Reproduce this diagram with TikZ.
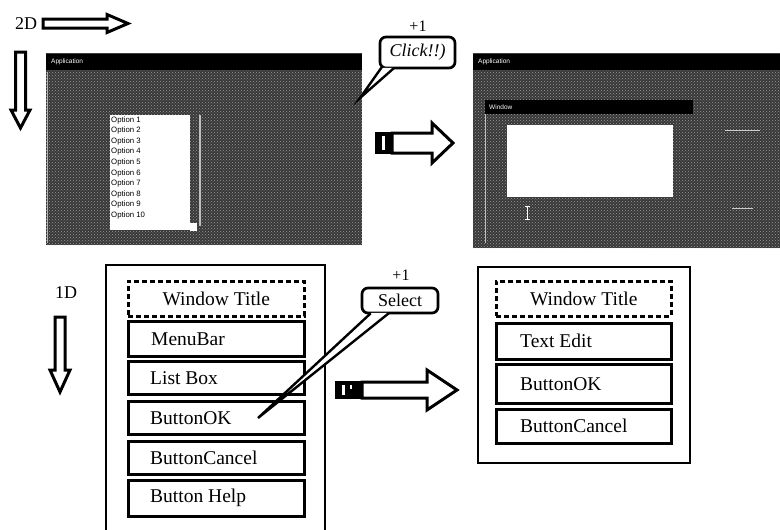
\documentclass[tikz,border=0pt]{standalone}
\usepackage{fontspec}
\setmainfont{Liberation Serif}
\newfontfamily\uifont{Liberation Sans}
\usetikzlibrary{patterns}

\tikzset{
  heavy/.style={line width=3pt, line join=miter},
  widget/.style={draw, line width=2.6pt, anchor=north west, inner sep=0pt, minimum width=176pt},
  dashwidget/.style={widget, dash pattern=on 5pt off 3pt},
  lbl/.style={anchor=west, inner sep=0pt, font=\fontsize{19.5}{20}\selectfont},
  ctr/.style={inner sep=0pt, font=\fontsize{19.5}{20}\selectfont},
  bubble/.style={draw, line width=2.7pt, fill=white, rounded corners=6pt, inner sep=0pt},
  shot/.style={fill=black!78},
  dither/.style={pattern=crosshatch dots, pattern color=black!40!white},
  tiny/.style={inner sep=0pt, anchor=west, font=\uifont\fontsize{6.5}{7}\selectfont},
  opt/.style={inner sep=0pt, anchor=west, font=\uifont\fontsize{7.8}{8}\selectfont},
}

\begin{document}
\begin{tikzpicture}[x=1pt,y=-1pt]
\useasboundingbox (0,0) rectangle (780,530);

% ---------- 2D direction marks ----------
\node[ctr, font=\fontsize{18}{18}\selectfont] (twoD) at (26,24) {2D};
\draw[heavy, fill=white] (43,19) -- (107,19) -- (107,14.5) -- (128,23.5) -- (107,32.5) -- (107,28) -- (43,28) -- cycle;
\draw[heavy, fill=white] (15.5,52) -- (25.5,52) -- (25.5,110) -- (30,110) -- (20.5,128) -- (11,110) -- (15.5,110) -- cycle;

% ---------- left screenshot: list box ----------
\fill[shot] (46,53) rectangle (362,245);
\fill[dither] (46,53) rectangle (362,245);
\fill[black] (46,54) rectangle (362,70);
\node[tiny, text=white] (apptitleA) at (51,62) {Application};
\draw[black!30, line width=0.8pt] (47,72) -- (47,243);
\fill[white] (110,115) rectangle (190,230);
\foreach \i in {1,...,10}
  \node[opt] (opt\i) at (111,{120+(\i-1)*10.6}) {Option \i};
\draw[black!25, line width=1.2pt] (200,115) -- (200,226);
\fill[white] (190,223) rectangle (197,231);

% ---------- right screenshot: text edit window ----------
\fill[shot] (473,53) rectangle (780,248);
\fill[dither] (473,53) rectangle (780,248);
\fill[black] (473,54) rectangle (780,70);
\node[tiny, text=white] (apptitleB) at (478,62) {Application};
\fill[black] (485,100) rectangle (693,114);
\node[tiny, text=white] (wintitle) at (489,107) {Window};
\draw[black!25, line width=0.8pt] (485,114) -- (485,243);
\fill[white] (507,125) rectangle (673,197);
\draw[white, line width=1pt] (527,206) -- (527,219) (524.5,206) -- (529.5,206) (524.5,219) -- (529.5,219);
\draw[black!20, line width=1pt] (725,130) -- (760,130) (732,208) -- (753,208);

% ---------- "Click!!)" callout ----------
\node[bubble, minimum width=75pt, minimum height=31pt,
      font=\itshape\fontsize{18}{18}\selectfont] (click) at (417.5,52.5) {Click!!)};
\node[ctr, font=\fontsize{16}{16}\selectfont] (plusA) at (418,26) {+1};
\coordinate (clicktip) at (360,98);
\fill[white] ([xshift=4pt,yshift=1.5pt]click.south west) -- (clicktip) -- ([xshift=14pt,yshift=1.5pt]click.south west) -- cycle;
\draw[line width=2.4pt] ([xshift=3pt,yshift=2pt]click.south west) -- (clicktip) -- ([xshift=15pt,yshift=1pt]click.south west);

% ---------- transition arrows ----------
\draw[heavy, fill=white] (392,133) -- (432,133) -- (432,123) -- (453,143) -- (432,163) -- (432,153) -- (392,153) -- cycle;
\fill[black] (375,132) rectangle (392,154);
\fill[white] (382,136) rectangle (385,150);

\draw[heavy, fill=white] (362,382) -- (427,382) -- (427,370) -- (457,390) -- (427,410) -- (427,398) -- (362,398) -- cycle;
\fill[black] (335,381) rectangle (362,399);
\fill[white] (342,385) rectangle (345,395);
\fill[white] (350,385) rectangle (352,389);

% ---------- 1D direction mark ----------
\node[ctr, font=\fontsize{18}{18}\selectfont] (oneD) at (66,293) {1D};
\draw[heavy, fill=white] (55,317) -- (65,317) -- (65,370) -- (70,370) -- (60,392) -- (50,370) -- (55,370) -- cycle;

% ---------- left widget list ----------
\draw[line width=2.6pt] (106,531) -- (106,265) -- (325,265) -- (325,531);
\node[dashwidget, minimum height=35pt] (wtA) at (127,280) {};
\node[ctr] (wtAl) at (wtA.center) {Window Title};
\node[widget, minimum height=35pt] (menubar) at (127,320) {};
\node[lbl] (menubarl) at ([xshift=24pt]menubar.west) {MenuBar};
\node[widget, minimum height=33pt] (listbox) at (127,360) {};
\node[lbl] (listboxl) at ([xshift=23pt]listbox.west) {List Box};
\node[widget, minimum height=33pt] (okA) at (127,400) {};
\node[lbl] (okAl) at ([xshift=23pt]okA.west) {ButtonOK};
\node[widget, minimum height=33pt] (cancelA) at (127,440) {};
\node[lbl] (cancelAl) at ([xshift=23pt]cancelA.west) {ButtonCancel};
\node[widget, minimum height=36pt] (help) at (127,479) {};
\node[lbl] (helpl) at ([xshift=23pt]help.west) {Button Help};

% ---------- "Select" callout ----------
\node[bubble, minimum width=76pt, minimum height=25pt,
      font=\fontsize{18}{18}\selectfont] (select) at (400,300.5) {Select};
\node[ctr, font=\fontsize{16}{16}\selectfont] (plusB) at (401,275) {+1};
\coordinate (oktip) at (258,418);
\fill[white] ([xshift=11pt,yshift=1.5pt]select.south west) -- (oktip) -- ([xshift=27pt,yshift=1.5pt]select.south west) -- cycle;
\draw[line width=2.4pt] ([xshift=10pt,yshift=1pt]select.south west) -- (oktip) -- ([xshift=28pt,yshift=1pt]select.south west);

% ---------- right widget list ----------
\draw[line width=2.6pt] (478,267) rectangle (690,463);
\node[dashwidget, minimum width=175pt, minimum height=35pt] (wtB) at (495,280) {};
\node[ctr] (wtBl) at (wtB.center) {Window Title};
\node[widget, minimum width=175pt, minimum height=36pt] (textedit) at (495,322) {};
\node[lbl] (texteditl) at ([xshift=25pt]textedit.west) {Text Edit};
\node[widget, minimum width=175pt, minimum height=39pt] (okB) at (495,363) {};
\node[lbl] (okBl) at ([xshift=25pt]okB.west) {ButtonOK};
\node[widget, minimum width=175pt, minimum height=34pt] (cancelB) at (495,408) {};
\node[lbl] (cancelBl) at ([xshift=25pt]cancelB.west) {ButtonCancel};

\end{tikzpicture}
\end{document}
